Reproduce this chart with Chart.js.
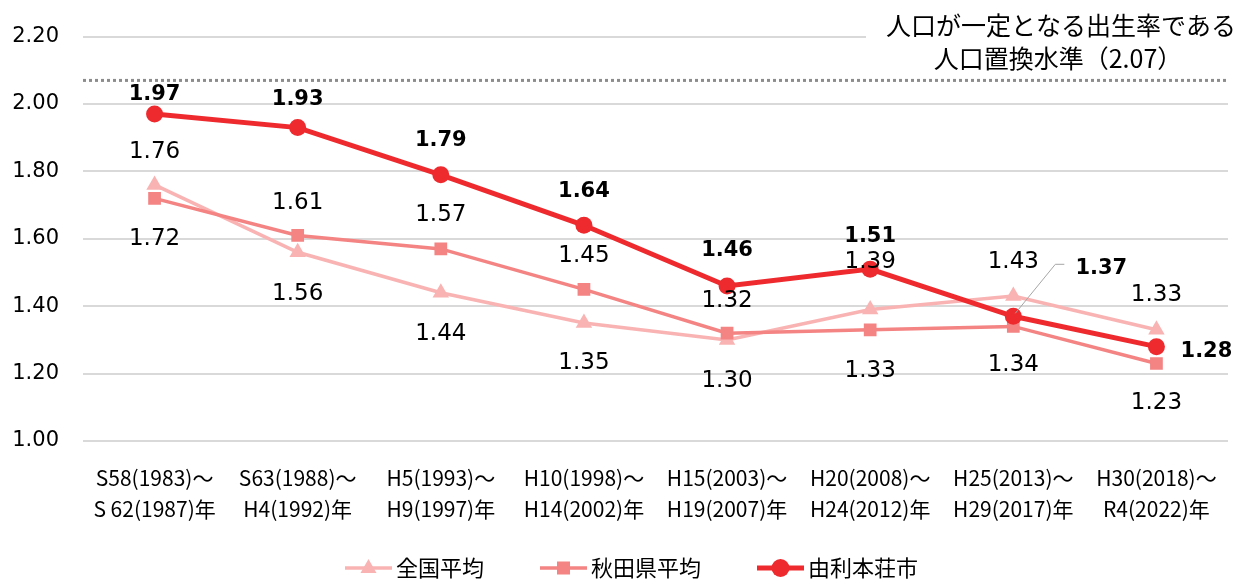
<!DOCTYPE html>
<html lang="ja">
<head>
<meta charset="utf-8">
<title>合計特殊出生率の推移</title>
<script src="https://cdn.jsdelivr.net/npm/chart.js@4/dist/chart.umd.min.js"></script>
<style>
  html, body { margin: 0; padding: 0; background: #fff; }
  #wrap { width: 1241px; height: 580px; position: relative; }
</style>
</head>
<body>
<div id="wrap"><canvas id="graph" width="1241" height="580"></canvas></div>
<script>
// === DONNÉES ===
const periodes = [
  ["S58(1983)〜", "S 62(1987)年"],
  ["S63(1988)〜", "H4(1992)年"],
  ["H5(1993)〜", "H9(1997)年"],
  ["H10(1998)〜", "H14(2002)年"],
  ["H15(2003)〜", "H19(2007)年"],
  ["H20(2008)〜", "H24(2012)年"],
  ["H25(2013)〜", "H29(2017)年"],
  ["H30(2018)〜", "R4(2022)年"]
];
const zenkoku = [1.76, 1.56, 1.44, 1.35, 1.30, 1.39, 1.43, 1.33];
const akita = [1.72, 1.61, 1.57, 1.45, 1.32, 1.33, 1.34, 1.23];
const yurihonjo = [1.97, 1.93, 1.79, 1.64, 1.46, 1.51, 1.37, 1.28];
const seuilRemplacement = 2.07;
const yTicks = [1.00, 1.20, 1.40, 1.60, 1.80, 2.00, 2.20];

const couleurs = {
  zenkoku: "#F9B3B3",
  akita: "#F48383",
  yuri: "#EE2A2E"
};

// placement des étiquettes (dx, dy en px par rapport au point)
const posZenkoku = [[0, -33], [0, 42], [0, 41], [0, 40], [0, 41], [0, -48], [0, -34], [0, -35]];
const posAkita = [[0, 41], [0, -32], [0, -34], [0, -33], [0, -32], [0, 41], [0, 39], [0, 40]];
const posYuri = [[0, -20], [0, -28], [0, -34], [0, -34], [0, -35], [0, -33], [88, -48], [50, 5]];

// === PLUGIN : étiquettes, ligne 2.07, encadré, légende ===
const decorations = {
  id: "decorations",
  beforeDatasetsDraw(chart) {
    const { ctx, chartArea, scales } = chart;
    const y = scales.y.getPixelForValue(seuilRemplacement);
    ctx.save();
    // encadré blanc qui masque la grille
    ctx.fillStyle = "#fff";
    ctx.fillRect(866, 8, 370, 62);
    // ligne pointillée 2.07
    ctx.strokeStyle = "#8c8c8c";
    ctx.lineWidth = 3;
    ctx.setLineDash([3, 3]);
    ctx.beginPath();
    ctx.moveTo(chartArea.left, y);
    ctx.lineTo(chartArea.right, y);
    ctx.stroke();
    ctx.setLineDash([]);
    ctx.fillStyle = "#000";
    ctx.font = "25px 'Noto Sans CJK JP'";
    ctx.textAlign = "center";
    ctx.textBaseline = "middle";
    ctx.fillText("人口が一定となる出生率である", 1061, 25);
    ctx.fillText("人口置換水準（2.07）", 1058, 58);
    ctx.restore();
  },
  afterDraw(chart) {
    const { ctx } = chart;
    ctx.save();
    ctx.textAlign = "center";
    ctx.textBaseline = "middle";
    const series = [
      { idx: 0, vals: zenkoku, pos: posZenkoku, font: "23px 'DejaVu Sans'" },
      { idx: 1, vals: akita, pos: posAkita, font: "23px 'DejaVu Sans'" },
      { idx: 2, vals: yurihonjo, pos: posYuri, font: "bold 21px 'DejaVu Sans'" }
    ];
    series.forEach(s => {
      const meta = chart.getDatasetMeta(s.idx);
      ctx.font = s.font;
      ctx.fillStyle = "#000";
      meta.data.forEach((pt, i) => {
        ctx.fillText(s.vals[i].toFixed(2), pt.x + s.pos[i][0], pt.y + s.pos[i][1]);
      });
    });
    // trait de rappel pour 1.37
    const p = chart.getDatasetMeta(2).data[6];
    ctx.strokeStyle = "#a6a6a6";
    ctx.lineWidth = 1;
    ctx.beginPath();
    ctx.moveTo(p.x + 2, p.y - 3);
    ctx.lineTo(p.x + 42, p.y - 52);
    ctx.lineTo(p.x + 51, p.y - 52);
    ctx.stroke();

    // légende
    const items = [
      { x: 345, txt: "全国平均", c: couleurs.zenkoku, m: "triangle" },
      { x: 540, txt: "秋田県平均", c: couleurs.akita, m: "rect" },
      { x: 757, txt: "由利本荘市", c: couleurs.yuri, m: "circle" }
    ];
    const ly = 568;
    items.forEach(it => {
      ctx.strokeStyle = it.c;
      ctx.fillStyle = it.c;
      ctx.lineWidth = it.m === "circle" ? 5 : 3.5;
      ctx.beginPath();
      ctx.moveTo(it.x, ly);
      ctx.lineTo(it.x + 47, ly);
      ctx.stroke();
      const cx = it.x + 23.5;
      ctx.beginPath();
      if (it.m === "triangle") {
        ctx.moveTo(cx, ly - 9);
        ctx.lineTo(cx + 8, ly + 5);
        ctx.lineTo(cx - 8, ly + 5);
        ctx.closePath();
      } else if (it.m === "rect") {
        ctx.rect(cx - 6.5, ly - 6.5, 13, 13);
      } else {
        ctx.arc(cx, ly, 9, 0, Math.PI * 2);
      }
      ctx.fill();
      ctx.fillStyle = "#000";
      ctx.font = "22px 'Noto Sans CJK JP'";
      ctx.textAlign = "left";
      ctx.fillText(it.txt, it.x + 51, ly);
    });
    ctx.restore();
  }
};

// === GRAPHIQUE ===
const ctx = document.getElementById("graph").getContext("2d");
new Chart(ctx, {
  type: "line",
  data: {
    labels: periodes,
    datasets: [
      {
        label: "全国平均",
        data: zenkoku,
        borderColor: couleurs.zenkoku,
        backgroundColor: couleurs.zenkoku,
        borderWidth: 3.5,
        pointStyle: "triangle",
        pointRadius: 9.5,
        pointBorderWidth: 0,
        order: 2
      },
      {
        label: "秋田県平均",
        data: akita,
        borderColor: couleurs.akita,
        backgroundColor: couleurs.akita,
        borderWidth: 3.5,
        pointStyle: "rect",
        pointRadius: 9,
        pointBorderWidth: 0,
        order: 1
      },
      {
        label: "由利本荘市",
        data: yurihonjo,
        borderColor: couleurs.yuri,
        backgroundColor: couleurs.yuri,
        borderWidth: 5,
        pointStyle: "circle",
        pointRadius: 8.5,
        pointBorderWidth: 0,
        order: 0
      }
    ]
  },
  options: {
    responsive: false,
    animation: false,
    devicePixelRatio: 1,
    layout: { padding: { top: 34, right: 13, bottom: 44, left: 0 } },
    plugins: {
      legend: { display: false },
      tooltip: { enabled: false }
    },
    scales: {
      x: {
        offset: true,
        grid: { display: false },
        border: { display: false },
        ticks: {
          color: "#000",
          maxRotation: 0,
          autoSkip: false,
          padding: 13,
          font: { family: "'Noto Sans CJK JP'", size: 21, lineHeight: 1.5 }
        },
        afterFit(scale) { scale.height = 95; }
      },
      y: {
        min: yTicks[0],
        max: yTicks[yTicks.length - 1],
        afterBuildTicks(scale) { scale.ticks = yTicks.map(v => ({ value: v })); },
        grid: { color: "#d9d9d9", lineWidth: 2, drawTicks: false },
        border: { display: false },
        ticks: {
          color: "#000",
          padding: 24,
          font: { family: "'DejaVu Sans'", size: 21 },
          callback: v => v.toFixed(2)
        },
        afterFit(scale) { scale.width = 83; }
      }
    }
  },
  plugins: [decorations]
});
</script>
</body>
</html>
